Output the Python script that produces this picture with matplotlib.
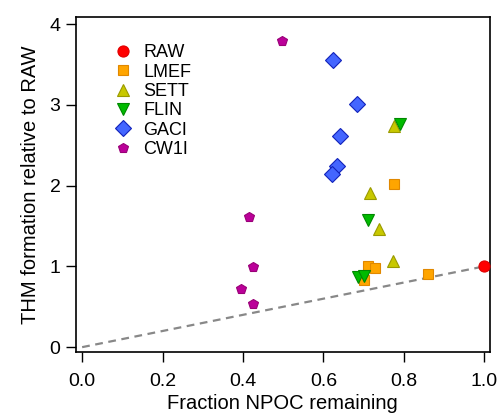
import matplotlib
matplotlib.use("Agg")
import matplotlib.pyplot as plt

plt.rcParams['font.family'] = ['Liberation Sans', 'DejaVu Sans']

raw_x = [1.0]
raw_y = [1.0]
lmef_x = [0.775, 0.711, 0.728, 0.700, 0.859]
lmef_y = [2.02, 1.01, 0.98, 0.83, 0.91]
sett_x = [0.775, 0.716, 0.739, 0.774]
sett_y = [2.74, 1.91, 1.46, 1.07]
flin_x = [0.790, 0.710, 0.687, 0.700]
flin_y = [2.76, 1.57, 0.87, 0.88]
gaci_x = [0.623, 0.683, 0.641, 0.633, 0.622]
gaci_y = [3.56, 3.01, 2.62, 2.245, 2.14]
cw1i_x = [0.496, 0.415, 0.424, 0.395, 0.424]
cw1i_y = [3.79, 1.61, 0.99, 0.72, 0.53]

x_ticks = [0.0, 0.2, 0.4, 0.6, 0.8, 1.0]
y_ticks = [0, 1, 2, 3, 4]

fig = plt.figure(figsize=(4.99, 4.15), dpi=100)
ax = fig.add_axes([75.7/499, 1 - 352/415, (490 - 75.7)/499, (352 - 17)/415])

ax.plot([0, 1], [0, 1], ls=(0, (3.5, 2.5)), color='#888888', lw=1.6, zorder=1)

series = [
    ('RAW', raw_x, raw_y, 'o', '#FF0000', '#E00000', 8),
    ('LMEF', lmef_x, lmef_y, 's', '#FFA500', '#E08800', 7.5),
    ('SETT', sett_x, sett_y, '^', '#C8C800', '#9A9A00', 8.5),
    ('FLIN', flin_x, flin_y, 'v', '#00BB00', '#008800', 8.5),
    ('GACI', gaci_x, gaci_y, 'D', '#4466FF', '#1122BB', 8),
    ('CW1I', cw1i_x, cw1i_y, 'p', '#BB0099', '#990077', 7.5),
]
for name, xs, ys, m, fc, ec, ms in series:
    ax.plot(xs, ys, ls='none', marker=m, markerfacecolor=fc, markeredgecolor=ec,
            markersize=ms, markeredgewidth=0.8, label=name, zorder=3)

ax.set_xlim(-0.016, 1.0142)
ax.set_ylim(-0.06, 4.087)
ax.set_xticks(x_ticks)
ax.set_xticklabels(['%.1f' % v for v in x_ticks])
ax.set_yticks(y_ticks)
ax.tick_params(direction='out', length=7, width=1, labelsize=14)
ax.tick_params(axis='x', pad=8)
ax.tick_params(axis='y', pad=4)
for s in ax.spines.values():
    s.set_linewidth(1.2)

ax.set_xlabel('Fraction NPOC remaining', fontsize=14.5, labelpad=3)
ax.set_ylabel('THM formation relative to RAW', fontsize=14.5, labelpad=7)

ax.legend(loc='upper left', bbox_to_anchor=(0.07, 0.94), frameon=False,
          fontsize=13, handletextpad=0.55, labelspacing=0.13, borderaxespad=0,
          handlelength=1.2)

fig.savefig('out.png', dpi=100)
